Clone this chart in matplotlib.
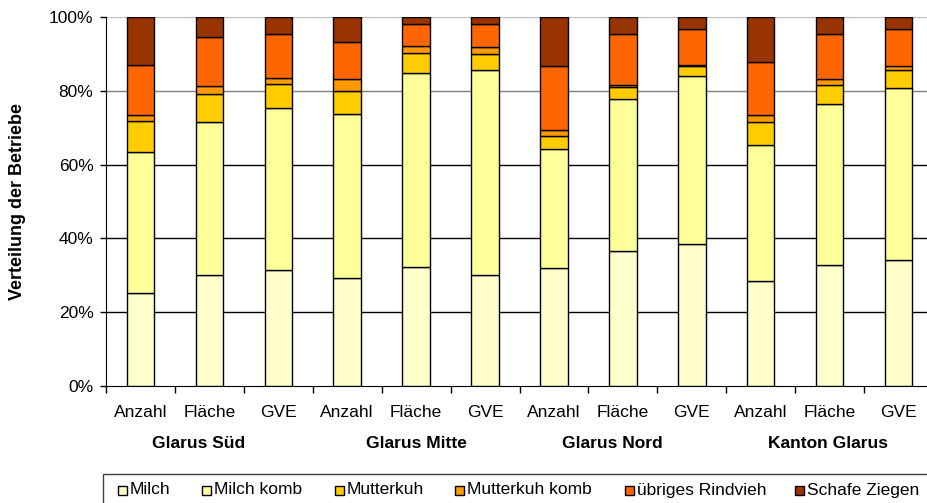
import numpy as np
import matplotlib
matplotlib.use("Agg")
import matplotlib.pyplot as plt
from matplotlib.patches import Rectangle
from matplotlib.transforms import blended_transform_factory

plt.rcParams["font.family"] = ["Liberation Sans", "DejaVu Sans"]

# Kategorien
measures = ["Anzahl", "Fläche", "GVE"] * 4
regions = ["Glarus Süd", "Glarus Mitte", "Glarus Nord", "Kanton Glarus"]

# Anteile in Prozent je Betriebstyp (Reihenfolge wie measures)
milch          = [25.1, 30.0, 31.4, 29.4, 32.2, 30.0, 31.9, 36.7, 38.4, 28.5, 32.9, 34.1]
milch_komb     = [38.2, 41.5, 43.9, 44.3, 52.5, 55.6, 32.2, 41.1, 45.6, 36.8, 43.4, 46.7]
mutterkuh      = [8.4, 7.7, 6.5, 6.3, 5.5, 4.4, 3.7, 3.2, 2.7, 6.2, 5.4, 4.8]
mutterkuh_komb = [1.7, 2.2, 1.8, 3.2, 1.9, 1.9, 1.6, 0.7, 0.4, 1.9, 1.6, 1.0]
uebriges_rv    = [13.6, 13.3, 11.9, 10.1, 5.9, 6.1, 17.2, 13.7, 9.7, 14.3, 12.2, 10.1]
schafe_ziegen  = [13.0, 5.3, 4.5, 6.7, 2.0, 2.0, 13.4, 4.6, 3.2, 12.3, 4.5, 3.3]

series_names = ["Milch", "Milch komb", "Mutterkuh", "Mutterkuh komb",
                "übriges Rindvieh", "Schafe Ziegen"]
series_values = [milch, milch_komb, mutterkuh, mutterkuh_komb,
                 uebriges_rv, schafe_ziegen]
series_colors = ["#FFFFCC", "#FFFF99", "#FFCC00", "#FF9900", "#FF6600", "#993300"]

FS = 12.5

fig = plt.figure(figsize=(9.28, 5.03), dpi=100)
W, H = 928, 503
ax = fig.add_axes([106 / W, (H - 386) / H, 827 / W, 369 / H])

x = np.arange(len(measures))
bottom = np.zeros(len(measures))
for name, vals, col in zip(series_names, series_values, series_colors):
    vals = np.array(vals)
    ax.bar(x, vals, width=0.4, bottom=bottom, color=col,
           edgecolor="black", linewidth=1.0, label=name, zorder=3)
    bottom += vals

ax.set_xlim(-0.5, len(measures) - 0.5)
ax.set_ylim(0, 100)
ax.set_yticks(np.arange(0, 101, 20))
ax.set_yticklabels([f"{v}%" for v in range(0, 101, 20)])
ax.tick_params(axis="y", direction="out", length=4, width=1, pad=5,
               labelsize=FS, colors="black")

# Kategorien-Beschriftung und Trennstriche
ax.set_xticks(x)
ax.set_xticklabels(measures)
ax.set_xticks(np.arange(-0.5, len(measures), 1.0), minor=True)
ax.tick_params(axis="x", which="major", length=0, pad=14, labelsize=FS)
ax.tick_params(axis="x", which="minor", direction="out", length=5, width=1)

for side in ("top", "right"):
    ax.spines[side].set_visible(False)
ax.spines["left"].set_color("black")
ax.spines["bottom"].set_color("black")

# Horizontale Gitterlinien
grid_colors = {20: "black", 40: "black", 60: "black", 80: "#808080", 100: "#C0C0C0"}
for yv, gc in grid_colors.items():
    ax.axhline(yv, color=gc, linewidth=1.0, zorder=1)

# Regionen unter den Kategorien
trans = blended_transform_factory(ax.transData, ax.transAxes)
region_pos = [0.84, 4.0, 6.84, 9.98]
for pos, reg in zip(region_pos, regions):
    ax.text(pos, -0.1545, reg, transform=trans, ha="center", va="center",
            fontsize=FS, fontweight="bold")

fig.text(18 / W, 0.5 + (H / 2 - 201.5) / H, "Verteilung der Betriebe",
         rotation=90, ha="center", va="center", fontsize=13, fontweight="bold")

# Legende
fig.add_artist(Rectangle((103 / W, -0.01), 1.0, (H - 474) / H + 0.01,
                         transform=fig.transFigure, facecolor="white",
                         edgecolor="#404040", linewidth=1.0))
marker_left = [118, 202, 335, 455, 625, 795]
y_c = (H - 490) / H
sq = 9
for left, name, col in zip(marker_left, series_names, series_colors):
    fig.add_artist(Rectangle((left / W, y_c - sq / 2 / H), sq / W, sq / H,
                             transform=fig.transFigure, facecolor=col,
                             edgecolor="black", linewidth=1.0))
    fig.text((left + sq + 3) / W, y_c, name, ha="left", va="center",
             fontsize=FS)

fig.savefig("out.png", dpi=100)
